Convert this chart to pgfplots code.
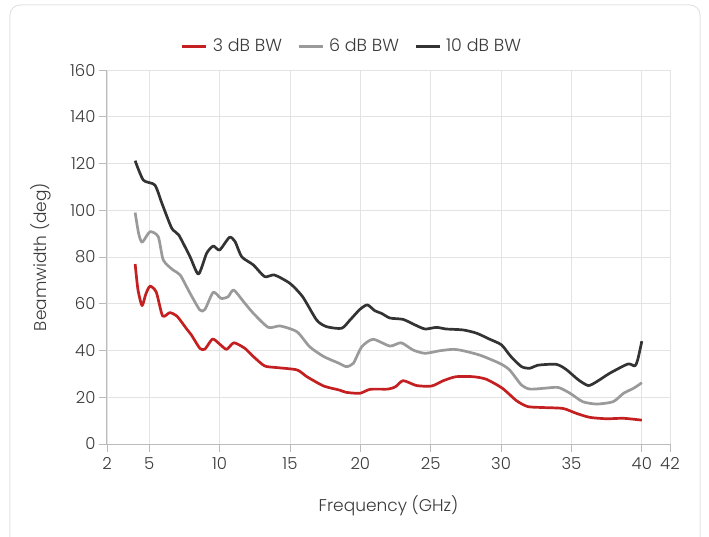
\documentclass[border=0pt]{standalone}
\usepackage{fontspec}
\setmainfont{Poppins Light}
\usepackage{pgfplots}
\pgfplotsset{compat=1.18}

\definecolor{bwred}{HTML}{C42021}
\definecolor{bwgray}{HTML}{9A9A9A}
\definecolor{bwblack}{HTML}{333333}
\definecolor{gridc}{HTML}{E3E3E3}
\definecolor{axc}{HTML}{BBBBBB}
\definecolor{txt}{HTML}{3A3A3A}

\begin{document}
\begin{tikzpicture}[x=1pt,y=1pt]
  % card frame
  \draw[gridc, line width=1pt, rounded corners=10pt] (-97,439) rectangle (593,-120);
  \begin{axis}[
    at={(0,0)}, anchor=origin,
    scale only axis,
    width=563pt, height=374pt,
    xmin=2, xmax=42, ymin=0, ymax=160,
    xtick={2,5,10,15,20,25,30,35,40,42},
    ytick={0,20,...,160},
    axis x line*=bottom, axis y line*=left,
    axis line style={axc, line width=1pt, -},
    grid=major,
    major grid style={gridc, line width=0.8pt},
    tick align=outside,
    major tick length=8pt,
    tick style={axc, line width=0.8pt},
    /pgf/number format/assume math mode=true,
    ticklabel style={font=\fontsize{16.5}{19}\selectfont, text=txt},
    xticklabel style={yshift=-2pt},
    xlabel={Frequency (GHz)},
    ylabel={Beamwidth (deg)},
    label style={font=\fontsize{17}{20}\selectfont, text=txt},
    xlabel style={yshift=-19pt},
    ylabel style={yshift=12pt},
    legend style={
      at={(rel axis cs:0.435,1.064)}, anchor=center,
      draw=none, fill=none,
      font=\fontsize{17.5}{20}\selectfont, text=txt,
      /tikz/every even column/.append style={column sep=13pt},
      /tikz/every odd column/.append style={column sep=3pt},
    },
    legend columns=-1,
    legend image code/.code={\draw[#1, line width=3pt] (0pt,0pt) -- (24pt,0pt);},
    every axis plot/.append style={line width=2.7pt, smooth, tension=0.4, line join=round},
  ]
  \addplot[bwred] coordinates {
    (4.0,77)(4.2,66)(4.49,59.2)(4.75,64)(5.05,67.5)(5.5,65)(5.95,54.8)(6.47,56.2)
    (7.0,54.5)(7.66,49.2)(8.0,46.6)(8.6,40.9)(8.96,40.6)(9.5,44.9)(10.03,42.6)
    (10.5,40.5)(11.02,43.3)(11.8,40.9)(12.4,37.4)(13.2,33.4)(14.05,32.7)(15.5,31.7)
    (16.2,28.8)(17.4,24.8)(18.5,23.1)(19.0,22.1)(19.97,21.7)(20.7,23.4)(21.97,23.5)
    (22.5,24.5)(23.04,27.1)(24.0,25)(25.06,24.8)(25.9,27.1)(26.8,28.8)(28.0,28.8)
    (28.95,27.7)(30.1,23.8)(31.1,18.5)(31.9,16)(32.98,15.6)(34.4,15.2)(35.35,13.1)
    (36.3,11.4)(37.5,10.8)(38.7,11)(40.0,10.2)
  };
  \addplot[bwgray] coordinates {
    (4.0,99)(4.25,90)(4.5,86.3)(5.05,90.8)(5.64,88.7)(6.0,78.7)(6.7,74.4)(7.2,72.3)
    (7.9,64.5)(8.6,57.3)(8.96,57.6)(9.55,64.9)(10.1,62.3)(10.6,63)(11.0,65.9)
    (11.7,60.9)(12.4,55.9)(13.46,49.9)(14.3,50.5)(15.5,48)(16.4,41.6)(17.4,37.4)
    (18.5,34.5)(19.0,33.1)(19.5,34.5)(20.1,41.6)(20.9,44.8)(22.1,41.9)(22.9,43.3)
    (23.75,40.2)(24.6,38.8)(25.65,39.9)(26.6,40.5)(27.3,39.9)(28.5,38)(29.9,34.5)
    (30.6,31.7)(31.45,25.2)(32.04,23.5)(32.98,23.8)(34.05,24.2)(34.9,21.7)(35.8,18.1)
    (36.8,17.1)(37.96,18.1)(38.7,21.7)(39.4,23.8)(40.0,26.2)
  };
  \addplot[bwblack] coordinates {
    (4.0,121.2)(4.58,112.9)(5.4,110.8)(5.9,103)(6.6,92.3)(7.1,89.4)(7.9,80.1)
    (8.5,72.7)(9.08,81.6)(9.55,84.7)(10.0,83)(10.7,88.4)(11.1,86.6)(11.57,80.1)
    (12.4,76.6)(13.2,71.6)(13.9,72.3)(15.0,68.7)(15.9,63)(16.9,53)(17.6,50.2)
    (18.67,49.5)(19.26,53)(19.97,57.6)(20.5,59.5)(21.03,57)(21.5,55.9)(22.1,53.9)
    (23.04,53.3)(23.9,50.9)(24.6,49.2)(25.4,49.9)(26.1,49.2)(27.3,48.8)(28.26,47.4)
    (29.2,44.8)(30.03,42.4)(30.7,37.4)(31.45,33.1)(32.04,32.4)(32.6,33.7)(33.9,34.1)
    (34.6,32)(35.5,27.4)(36.2,25)(36.8,26.7)(37.7,30.2)(39.0,34.2)(39.5,33.4)
    (39.7,35.9)(40.0,44)
  };
  \legend{3 dB BW, 6 dB BW, 10 dB BW}
  \end{axis}
  \pgfresetboundingbox
  \useasboundingbox (-107,-92) rectangle (602,444);
\end{tikzpicture}
\end{document}
